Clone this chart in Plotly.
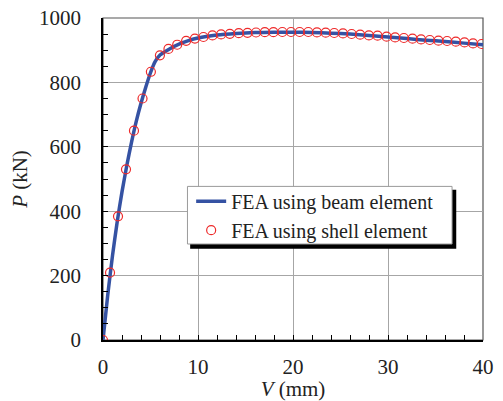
import plotly.graph_objects as go

# Beam element FEA (line)
V_beam = [0, 0.5, 1, 1.5, 2, 2.5, 3, 3.5, 4, 4.5, 5, 5.5, 6, 7, 8, 9, 10, 12, 14,
          16, 18, 20, 22, 24, 26, 28, 30, 32, 34, 36, 38, 40]
P_beam = [0, 140, 262, 368, 460, 541, 614, 679, 735, 785, 830, 865, 885, 904, 919,
          930, 938, 947, 952, 955, 956, 956, 955, 953, 950, 946, 941, 936, 931, 927,
          922, 917]

# Shell element FEA (markers)
V_shell = [0, 0.74, 1.58, 2.42, 3.26, 4.16, 5.04, 5.99, 6.89, 7.81, 8.75, 9.67, 10.57,
           11.52, 12.43, 13.35, 14.29, 15.21, 16.11, 17.03, 17.94, 18.88, 19.79, 20.70,
           21.61, 22.52, 23.44, 24.34, 25.26, 26.17, 27.07, 27.99, 28.90, 29.85, 30.75,
           31.67, 32.58, 33.48, 34.40, 35.31, 36.22, 37.14, 38.05, 38.95, 39.86]
P_shell = [0, 209, 384, 530, 650, 750, 833, 884, 904, 917, 929, 936, 941, 946, 949, 951,
           953, 954, 955, 956, 956, 956.5, 956.5, 956.5, 956.5, 955.3, 954.3, 953.4, 952.2,
           950.3, 948.1, 946, 945, 941.9, 939.8, 937.9, 935.7, 933.5, 931.7, 929.5, 928.6,
           926.4, 924.2, 921.1, 919.3]

x_ticks = [0, 10, 20, 30, 40]
y_ticks = [0, 200, 400, 600, 800, 1000]

FONT = "Times New Roman"
TXT = "#222222"

# plot-area geometry in pixels (used only to place the legend box)
L, R, T, B = 102.7, 483.3, 18.3, 340.3
def px_x(p):
    return (p - L) / (R - L)
def px_y(p):
    return (B - p) / (B - T)

fig = go.Figure()
fig.add_trace(go.Scatter(x=V_beam, y=P_beam, mode="lines", name="FEA using beam element",
                         line=dict(color="#3552a3", width=3.5, shape="spline", smoothing=0.6)))
fig.add_trace(go.Scatter(x=V_shell, y=P_shell, mode="markers", name="FEA using shell element",
                         marker=dict(symbol="circle-open", size=9, color="#ee2a2a",
                                     line=dict(width=1.2, color="#ee2a2a"))))

# plot frame (top/right gray)
fig.add_shape(type="rect", xref="x domain", yref="y domain", x0=0, x1=1, y0=0, y1=1,
              line=dict(color="#555555", width=1.2), layer="below")
# legend shadow + box
fig.add_shape(type="rect", xref="paper", yref="paper",
              x0=px_x(190), x1=px_x(456.5), y0=px_y(249), y1=px_y(190),
              line=dict(width=0), fillcolor="black", layer="above")
fig.add_shape(type="rect", xref="paper", yref="paper",
              x0=px_x(187.3), x1=px_x(452.3), y0=px_y(244.3), y1=px_y(186.7),
              line=dict(width=1, color="#9a9a9a"), fillcolor="white", layer="above")

fig.update_layout(
    template="none",
    width=503, height=401,
    margin=dict(l=L, r=503 - R, t=T, b=401 - B),
    paper_bgcolor="white", plot_bgcolor="white",
    font=dict(family=FONT, size=21, color=TXT),
    showlegend=True,
    legend=dict(x=px_x(191), y=px_y(182),
                xanchor="left", yanchor="top",
                bgcolor="rgba(0,0,0,0)", borderwidth=0,
                font=dict(family=FONT, size=20, color=TXT)),
)
fig.update_xaxes(range=[0, 40], tickvals=x_ticks, ticktext=[str(v) for v in x_ticks],
                 tickfont=dict(family=FONT, size=21, color=TXT),
                 showgrid=True, gridcolor="#a6a6a6", gridwidth=1,
                 showline=True, linecolor="black", linewidth=1.5,
                 ticks="inside", ticklen=5, tickcolor="black",
                 minor=dict(dtick=2, ticks="inside", ticklen=5, tickcolor="black", showgrid=False),
                 ticklabelstandoff=7, zeroline=False,
                 title=dict(text="<i>V</i> (mm)", standoff=3,
                            font=dict(family=FONT, size=21, color=TXT)))
fig.update_yaxes(range=[0, 1000], tickvals=y_ticks, ticktext=[str(v) for v in y_ticks],
                 tickfont=dict(family=FONT, size=21, color=TXT),
                 showgrid=True, gridcolor="#a6a6a6", gridwidth=1,
                 showline=True, linecolor="black", linewidth=1.5,
                 ticks="inside", ticklen=5, tickcolor="black",
                 minor=dict(dtick=50, ticks="inside", ticklen=5, tickcolor="black", showgrid=False),
                 ticklabelstandoff=16, zeroline=False,
                 title=dict(text="<i>P</i> (kN)", standoff=6,
                            font=dict(family=FONT, size=21, color=TXT)))

fig.write_html("out.html")
